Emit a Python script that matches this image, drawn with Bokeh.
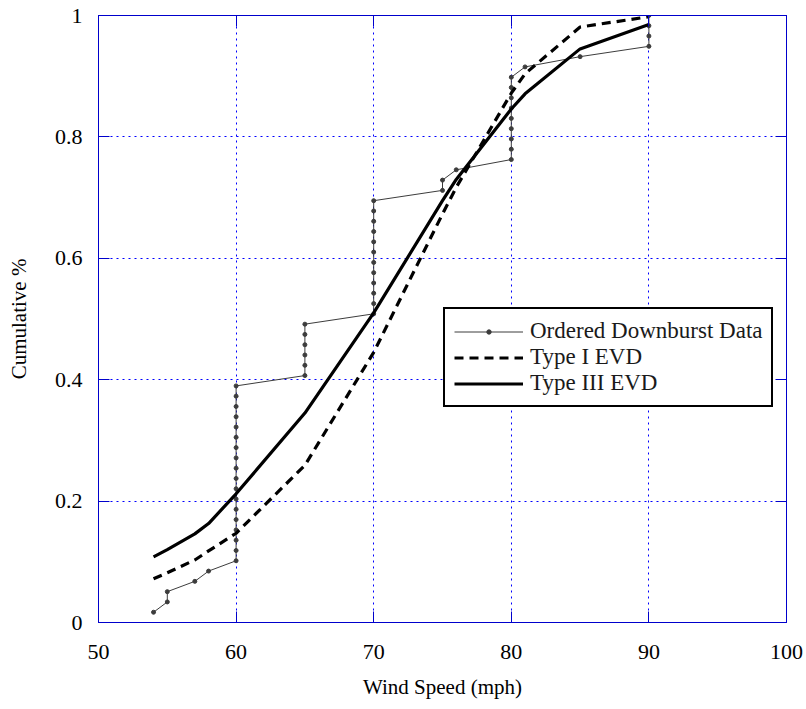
from bokeh.plotting import figure
from bokeh.models import (LinearAxis, Legend, LegendItem, FixedTicker, Range1d,
                          CustomJSTickFormatter)
from bokeh.embed import file_html
from bokeh.resources import INLINE

# ---- data ----
ordered_speed = [54, 55, 55, 57, 58,
                 60, 60, 60, 60, 60, 60, 60, 60, 60, 60, 60, 60, 60, 60, 60, 60, 60, 60,
                 65, 65, 65, 65, 65, 65,
                 70, 70, 70, 70, 70, 70, 70, 70, 70, 70, 70, 70,
                 75, 75, 76,
                 80, 80, 80, 80, 80, 80, 80, 80, 80,
                 81, 85,
                 90, 90, 90, 90]
ordered_cum = [0.0169, 0.0339, 0.0508, 0.0678, 0.0847,
               0.1017, 0.1186, 0.1356, 0.1525, 0.1695, 0.1864, 0.2034, 0.2203, 0.2373,
               0.2542, 0.2712, 0.2881, 0.3051, 0.3220, 0.3390, 0.3559, 0.3729, 0.3898,
               0.4068, 0.4237, 0.4407, 0.4576, 0.4746, 0.4915,
               0.5085, 0.5254, 0.5424, 0.5593, 0.5763, 0.5932, 0.6102, 0.6271, 0.6441,
               0.6610, 0.6780, 0.6949,
               0.7119, 0.7288, 0.7458,
               0.7627, 0.7797, 0.7966, 0.8136, 0.8305, 0.8475, 0.8644, 0.8814, 0.8983,
               0.9153, 0.9322,
               0.9492, 0.9661, 0.9831, 1.0000]

evd_speed = [54, 55, 57, 58, 60, 65, 70, 75, 76, 80, 81, 85, 90]
type1_cum = [0.072, 0.082, 0.103, 0.118, 0.147, 0.259, 0.445, 0.673, 0.717, 0.872, 0.904, 0.981, 0.998]
type3_cum = [0.108, 0.120, 0.146, 0.163, 0.212, 0.345, 0.510, 0.695, 0.730, 0.846, 0.871, 0.945, 0.985]

x_ticks = [50, 60, 70, 80, 90, 100]
y_ticks = [0, 0.2, 0.4, 0.6, 0.8, 1]

FONT = "Liberation Serif"
BLUE = "#0000cc"

p = figure(width=806, height=709, output_backend="svg", toolbar_location=None,
           x_range=Range1d(50, 100), y_range=Range1d(0, 1),
           x_axis_label="Wind Speed (mph)", y_axis_label="Cumulative %",
           min_border_left=98, min_border_right=20, min_border_top=15, min_border_bottom=87)
p.background_fill_color = "white"
p.border_fill_color = "white"
p.outline_line_color = BLUE
p.outline_line_width = 1

xt = FixedTicker(ticks=x_ticks)
yt = FixedTicker(ticks=y_ticks)

def style_axis(ax, show_labels):
    ax.axis_line_color = BLUE
    ax.axis_line_width = 1
    ax.major_tick_line_color = BLUE
    ax.major_tick_in = 11
    ax.major_tick_out = 0
    ax.minor_tick_line_color = None
    ax.major_label_text_font = FONT
    ax.major_label_text_color = "black"
    ax.axis_label_text_font = FONT
    ax.axis_label_text_font_style = "normal"
    ax.axis_label_text_color = "black"
    if not show_labels:
        ax.formatter = CustomJSTickFormatter(code="return '';")
        ax.major_label_text_font_size = "0px"
        ax.major_label_standoff = 0

xa = p.xaxis[0]
ya = p.yaxis[0]
xa.ticker = xt
ya.ticker = yt
style_axis(xa, True)
style_axis(ya, True)
xa.major_label_text_font_size = "22px"
ya.major_label_text_font_size = "22px"
xa.axis_label_text_font_size = "21px"
ya.axis_label_text_font_size = "21px"
xa.major_label_standoff = 22
ya.major_label_standoff = 16
xa.axis_label_standoff = 13
ya.axis_label_standoff = 21
ya.formatter = CustomJSTickFormatter(code="return Number(tick.toFixed(1)).toString();")

ra = LinearAxis(ticker=yt)
style_axis(ra, False)
p.add_layout(ra, "right")
ta = LinearAxis(ticker=xt)
style_axis(ta, False)
p.add_layout(ta, "above")

p.xgrid.ticker = xt
p.ygrid.ticker = yt
for g in (p.xgrid[0], p.ygrid[0]):
    g.grid_line_color = "#0000ff"
    g.grid_line_dash = "2 4"
    g.grid_line_width = 1

r_data_line = p.line(ordered_speed, ordered_cum, line_color="#3c3c3c", line_width=1)
r_data_pts = p.scatter(ordered_speed, ordered_cum, marker="circle", size=4,
                       fill_color="#3c3c3c", line_color="#3c3c3c")
r_t1 = p.line(evd_speed, type1_cum, line_color="black", line_width=3.2, line_dash="9 6")
r_t3 = p.line(evd_speed, type3_cum, line_color="black", line_width=3.2)

legend = Legend(items=[
    LegendItem(label="Ordered Downburst Data", renderers=[r_data_line, r_data_pts]),
    LegendItem(label="Type I EVD", renderers=[r_t1]),
    LegendItem(label="Type III EVD", renderers=[r_t3]),
], location=(345, 215))
legend.border_line_color = "black"
legend.border_line_alpha = 1
legend.border_line_width = 2.5
legend.background_fill_color = "white"
legend.background_fill_alpha = 1
legend.label_text_font = FONT
legend.label_text_font_size = "23px"
legend.label_text_color = "#1a1a1a"
legend.glyph_width = 69
legend.glyph_height = 11
legend.label_height = 22
legend.spacing = 0
legend.padding = 9
legend.label_standoff = 7
legend.margin = 0
p.add_layout(legend, "center")

open("out.html", "w").write(file_html(p, INLINE))
